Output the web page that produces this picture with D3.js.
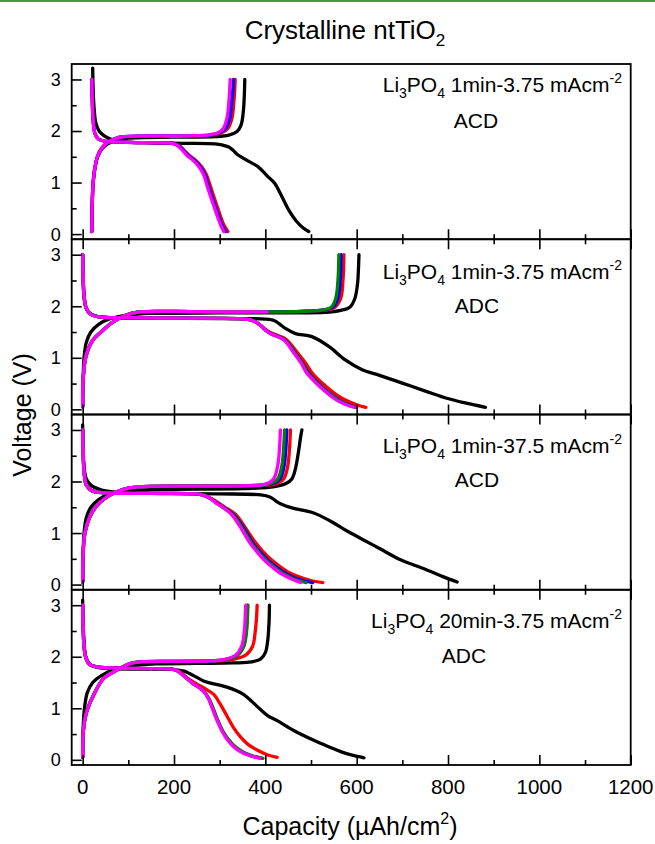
<!DOCTYPE html>
<html>
<head>
<meta charset="utf-8">
<script src="https://cdn.jsdelivr.net/npm/d3@7"></script>
<style>
  html, body { margin: 0; padding: 0; background: #fff; }
  svg { display: block; font-family: "Liberation Sans", Arial, sans-serif; }
</style>
</head>
<body>
<div id="chart"></div>
<script>
// tick values
const capacityTicks = [0, 200, 400, 600, 800, 1000, 1200];
const capacityMinor = [100, 300, 500, 700, 900, 1100];
const voltageTicks = [0, 1, 2, 3];
const voltageMinor = [0.5, 1.5, 2.5];

// panel annotations: [rate text, mode]
const panelRate = ["1min-3.75 mAcm", "1min-3.75 mAcm", "1min-37.5 mAcm", "20min-3.75 mAcm"];
const panelMode = ["ACD", "ADC", "ACD", "ADC"];

const cycleColors = { black: "#000000", red: "#ff0000", blue: "#0000ff", green: "#008000", magenta: "#ff00ff" };

// ---- panel 1 : Li3PO4 1min-3.75 ACD ----
const p1BlackDis = [[22,3.22],[23,2.8],[25,2.45],[29,2.15],[36,2.0],[48,1.9],[65,1.83],[90,1.79],[150,1.77],[220,1.76],[290,1.75],[305,1.73],[320,1.69],[330,1.62],[338,1.55],[360,1.43],[385,1.3],[405,1.12],[420,0.99],[435,0.75],[451,0.47],[468,0.25],[483,0.12],[495,0.05]];
const p1RedDis = [[20,3.0],[21,2.6],[23,2.2],[27,1.95],[35,1.84],[50,1.8],[100,1.78],[180,1.77],[199,1.76],[211,1.72],[222,1.63],[233,1.53],[249,1.42],[261,1.3],[271,1.15],[279,0.95],[286,0.76],[294,0.55],[301,0.37],[309,0.18],[318,0.05]];
const p1BlueDis = [[20,3.0],[21,2.6],[23,2.2],[27,1.95],[35,1.84],[50,1.8],[100,1.78],[180,1.77],[197,1.76],[209,1.72],[220,1.63],[231,1.53],[246,1.42],[258,1.3],[268,1.15],[275,0.95],[282,0.76],[290,0.55],[297,0.37],[305,0.18],[313,0.05]];
const p1MagentaDis = [[20,3.0],[21,2.6],[23,2.2],[27,1.95],[35,1.84],[50,1.8],[100,1.78],[180,1.77],[195,1.76],[207,1.72],[218,1.63],[228,1.53],[243,1.42],[255,1.3],[265,1.15],[272,0.95],[279,0.76],[287,0.55],[294,0.37],[302,0.18],[309,0.05]];
const p1BlackChg = [[20,0.05],[21,0.6],[23,1.0],[27,1.28],[33,1.5],[42,1.65],[55,1.75],[75,1.82],[100,1.86],[200,1.88],[290,1.89],[320,1.92],[338,1.99],[347,2.12],[352,2.4],[354,2.7],[355,3.0]];
const p1RedChg = [[20,0.05],[21,0.6],[23,1.0],[27,1.3],[33,1.52],[42,1.67],[55,1.78],[70,1.85],[90,1.89],[150,1.9],[220,1.9],[275,1.91],[303,1.96],[318,2.05],[327,2.25],[331,2.55],[333,2.8],[334,3.0]];
const p1BlueChg = [[20,0.05],[21,0.6],[23,1.0],[27,1.3],[33,1.52],[42,1.67],[55,1.78],[70,1.85],[90,1.89],[150,1.9],[220,1.9],[270,1.91],[298,1.96],[313,2.05],[322,2.25],[326,2.55],[329,2.8],[330,3.0]];
const p1MagentaChg = [[20,0.05],[21,0.6],[23,1.0],[27,1.3],[33,1.52],[42,1.67],[55,1.78],[70,1.85],[90,1.89],[150,1.9],[220,1.9],[270,1.92],[295,1.96],[308,2.05],[316,2.25],[320,2.55],[322,2.8],[323,3.0]];

// ---- panel 2 : Li3PO4 1min-3.75 ADC ----
const p2BlackDis = [[0,3.0],[1,2.6],[3,2.2],[7,1.98],[15,1.87],[30,1.81],[60,1.78],[150,1.77],[300,1.76],[400,1.75],[420,1.72],[432,1.65],[444,1.57],[466,1.47],[502,1.41],[539,1.22],[575,0.96],[612,0.77],[650,0.66],[703,0.5],[755,0.34],[799,0.21],[840,0.12],[882,0.04]];
const p2RedDis = [[0,3.0],[1,2.6],[3,2.2],[8,1.96],[18,1.84],[40,1.79],[80,1.78],[200,1.77],[340,1.76],[365,1.74],[378,1.7],[390,1.63],[401,1.55],[413,1.48],[445,1.36],[470,1.1],[488,0.9],[503,0.7],[523,0.52],[543,0.37],[563,0.24],[585,0.14],[603,0.08],[620,0.04]];
const p2BlueDis = [[0,3.0],[1,2.6],[3,2.2],[8,1.96],[18,1.84],[40,1.79],[80,1.78],[200,1.77],[340,1.76],[365,1.74],[378,1.7],[389,1.63],[400,1.54],[412,1.47],[442,1.35],[465,1.1],[481,0.9],[495,0.7],[514,0.52],[532,0.37],[551,0.24],[569,0.14],[586,0.08],[600,0.04]];
const p2GreenDis = [[0,3.0],[1,2.6],[3,2.2],[8,1.96],[18,1.84],[40,1.79],[80,1.78],[200,1.77],[340,1.76],[365,1.74],[378,1.7],[389,1.63],[400,1.54],[411,1.47],[441,1.35],[464,1.1],[480,0.9],[493,0.7],[512,0.52],[530,0.37],[549,0.24],[567,0.14],[583,0.08],[597,0.04]];
const p2MagentaDis = [[0,3.0],[1,2.6],[3,2.2],[8,1.96],[18,1.84],[40,1.79],[80,1.78],[200,1.77],[340,1.76],[365,1.74],[378,1.7],[389,1.63],[400,1.54],[411,1.47],[440,1.35],[462,1.1],[478,0.9],[491,0.7],[510,0.52],[528,0.37],[546,0.24],[564,0.14],[580,0.08],[594,0.04]];
const p2BlackChg = [[0,0.05],[1,0.6],[3,1.0],[8,1.3],[18,1.5],[35,1.65],[60,1.76],[100,1.83],[150,1.86],[300,1.87],[450,1.87],[530,1.88],[565,1.92],[585,1.98],[596,2.15],[602,2.45],[604,2.75],[605,3.0]];
const p2RedChg = [[0,0.05],[1,0.57],[7,1.02],[22,1.34],[44,1.53],[66,1.69],[95,1.83],[124,1.89],[200,1.9],[300,1.89],[404,1.89],[480,1.9],[525,1.92],[552,1.98],[565,2.15],[570,2.5],[572,3.0]];
const p2BlueChg = [[0,0.05],[1,0.57],[7,1.02],[22,1.34],[44,1.53],[66,1.69],[95,1.83],[124,1.89],[200,1.9],[300,1.89],[404,1.89],[480,1.9],[520,1.92],[548,1.98],[559,2.15],[564,2.5],[566,3.0]];
const p2GreenChg = [[0,0.05],[1,0.57],[7,1.02],[22,1.34],[44,1.53],[66,1.69],[95,1.83],[124,1.89],[200,1.9],[300,1.89],[404,1.89],[480,1.9],[518,1.92],[544,1.98],[554,2.15],[559,2.5],[561,3.0]];
const p2MagentaChg = [[0,0.05],[1,0.57],[7,1.02],[22,1.34],[44,1.53],[66,1.69],[95,1.83],[124,1.89],[200,1.9],[300,1.89],[404,1.89]];

// ---- panel 3 : Li3PO4 1min-37.5 ACD ----
const p3BlackDis = [[0,3.1],[1,2.7],[3,2.3],[8,2.05],[18,1.93],[40,1.84],[80,1.79],[150,1.77],[300,1.76],[390,1.74],[410,1.7],[422,1.63],[433,1.57],[462,1.48],[506,1.39],[543,1.23],[579,1.04],[608,0.9],[650,0.7],[696,0.48],[725,0.38],[755,0.28],[790,0.15],[820,0.05]];
const p3RedDis = [[0,3.0],[1,2.6],[3,2.2],[8,1.93],[20,1.82],[50,1.78],[120,1.77],[250,1.76],[265,1.73],[281,1.67],[295,1.6],[310,1.51],[335,1.36],[355,1.12],[378,0.82],[396,0.63],[412,0.49],[432,0.35],[455,0.22],[480,0.13],[504,0.07],[526,0.04]];
const p3BlueDis = [[0,3.0],[1,2.6],[3,2.2],[8,1.93],[20,1.82],[50,1.78],[120,1.77],[250,1.76],[265,1.73],[280,1.67],[293,1.59],[305,1.52],[331,1.35],[351,1.12],[373,0.8],[390,0.62],[405,0.48],[424,0.34],[444,0.22],[466,0.12],[486,0.07],[504,0.04]];
const p3GreenDis = [[0,3.0],[1,2.6],[3,2.2],[8,1.93],[20,1.82],[50,1.78],[120,1.77],[250,1.76],[265,1.73],[280,1.67],[292,1.59],[303,1.52],[329,1.35],[348,1.12],[370,0.8],[386,0.62],[401,0.48],[419,0.34],[438,0.22],[460,0.12],[476,0.07],[489,0.04]];
const p3MagentaDis = [[0,3.0],[1,2.6],[3,2.2],[8,1.93],[20,1.82],[50,1.78],[120,1.77],[250,1.76],[265,1.73],[280,1.67],[292,1.58],[305,1.51],[327,1.35],[345,1.12],[367,0.8],[383,0.62],[397,0.48],[415,0.34],[433,0.22],[455,0.12],[477,0.04]];
const p3BlackChg = [[0,0.05],[1,0.6],[3,1.0],[8,1.3],[18,1.5],[35,1.65],[60,1.76],[100,1.82],[200,1.85],[350,1.86],[420,1.9],[445,1.96],[458,2.05],[466,2.25],[473,2.6],[477,2.85],[480,3.0]];
const p3RedChg = [[0,0.05],[1,0.6],[5,1.0],[15,1.3],[30,1.52],[50,1.68],[75,1.8],[100,1.87],[130,1.9],[250,1.91],[380,1.92],[421,1.95],[440,2.05],[449,2.3],[453,2.65],[455,3.0]];
const p3BlueChg = [[0,0.05],[1,0.6],[5,1.0],[15,1.3],[30,1.52],[50,1.68],[75,1.8],[100,1.87],[130,1.9],[250,1.91],[372,1.92],[413,1.95],[432,2.05],[441,2.3],[445,2.65],[447,3.0]];
const p3GreenChg = [[0,0.05],[1,0.6],[5,1.0],[15,1.3],[30,1.52],[50,1.68],[75,1.8],[100,1.87],[130,1.9],[250,1.91],[368,1.92],[408,1.95],[427,2.05],[436,2.3],[440,2.65],[442,3.0]];
const p3MagentaChg = [[0,0.05],[1,0.6],[5,1.0],[15,1.3],[30,1.52],[50,1.68],[75,1.8],[100,1.87],[130,1.9],[250,1.91],[360,1.92],[400,1.95],[418,2.05],[427,2.3],[431,2.65],[433,3.0]];

// ---- panel 4 : Li3PO4 20min-3.75 ADC ----
const p4BlackDis = [[0,3.1],[1,2.7],[3,2.3],[7,2.0],[15,1.86],[30,1.8],[60,1.77],[120,1.76],[200,1.75],[222,1.72],[235,1.67],[250,1.6],[265,1.53],[280,1.49],[316,1.41],[352,1.27],[372,1.12],[389,0.98],[405,0.86],[426,0.76],[462,0.57],[506,0.38],[540,0.25],[565,0.16],[590,0.09],[616,0.04]];
const p4RedDis = [[0,3.0],[1,2.6],[3,2.2],[7,1.98],[15,1.85],[35,1.8],[80,1.78],[150,1.77],[195,1.76],[207,1.74],[221,1.65],[235,1.55],[250,1.47],[268,1.38],[287,1.27],[300,1.1],[316,0.85],[330,0.63],[345,0.45],[362,0.3],[382,0.19],[404,0.1],[426,0.05]];
const p4BlueDis = [[0,3.0],[1,2.6],[3,2.2],[7,1.98],[15,1.85],[35,1.8],[80,1.78],[150,1.77],[195,1.76],[207,1.73],[221,1.63],[232,1.55],[243,1.47],[255,1.4],[265,1.33],[275,1.2],[284,1.02],[295,0.77],[306,0.56],[318,0.4],[332,0.26],[348,0.16],[369,0.08],[392,0.03]];
const p4GreenDis = [[0,3.0],[1,2.6],[3,2.2],[7,1.98],[15,1.85],[35,1.8],[80,1.78],[150,1.77],[195,1.76],[207,1.73],[221,1.63],[232,1.55],[244,1.47],[256,1.4],[266,1.33],[276,1.2],[285,1.02],[296,0.77],[307,0.56],[319,0.4],[334,0.26],[350,0.16],[371,0.08],[395,0.03]];
const p4MagentaDis = [[0,3.0],[1,2.6],[3,2.2],[7,1.98],[15,1.85],[35,1.8],[80,1.78],[150,1.77],[195,1.76],[207,1.73],[221,1.63],[232,1.55],[243,1.47],[255,1.4],[265,1.33],[275,1.2],[283,1.02],[294,0.77],[305,0.56],[316,0.4],[330,0.26],[345,0.16],[366,0.08],[389,0.03]];
const p4BlackChg = [[0,0.05],[1,0.6],[4,1.0],[10,1.3],[22,1.5],[40,1.63],[70,1.75],[110,1.83],[160,1.86],[250,1.87],[330,1.88],[370,1.9],[390,1.96],[400,2.08],[405,2.3],[408,2.65],[409,3.0]];
const p4RedChg = [[0,0.05],[2,0.6],[9,0.94],[24,1.26],[46,1.58],[75,1.74],[104,1.87],[126,1.9],[200,1.91],[290,1.92],[325,1.94],[357,2.03],[372,2.2],[378,2.5],[381,2.8],[382,3.0]];
const p4BlueChg = [[0,0.05],[2,0.6],[9,0.94],[24,1.26],[46,1.58],[75,1.74],[104,1.87],[126,1.9],[200,1.91],[282,1.92],[309,1.94],[338,2.03],[352,2.2],[358,2.5],[360,2.8],[361,3.0]];
const p4GreenChg = [[0,0.05],[2,0.6],[9,0.94],[24,1.26],[46,1.58],[75,1.74],[104,1.87],[126,1.9],[200,1.91],[283,1.92],[310,1.94],[339,2.03],[353,2.2],[359,2.5],[361,2.8],[362,3.0]];
const p4MagentaChg = [[0,0.05],[2,0.6],[9,0.94],[24,1.26],[46,1.58],[75,1.74],[104,1.87],[126,1.9],[200,1.91],[280,1.92],[306,1.94],[335,2.03],[348,2.2],[354,2.5],[356,2.8],[357,3.0]];

const panelSeries = [
  [["black", p1BlackDis], ["black", p1BlackChg], ["red", p1RedDis], ["red", p1RedChg],
   ["blue", p1BlueDis], ["blue", p1BlueChg], ["magenta", p1MagentaDis], ["magenta", p1MagentaChg]],
  [["black", p2BlackDis], ["black", p2BlackChg], ["red", p2RedDis], ["red", p2RedChg],
   ["blue", p2BlueDis], ["blue", p2BlueChg], ["green", p2GreenDis], ["green", p2GreenChg],
   ["magenta", p2MagentaDis], ["magenta", p2MagentaChg]],
  [["black", p3BlackDis], ["black", p3BlackChg], ["red", p3RedDis], ["red", p3RedChg],
   ["blue", p3BlueDis], ["blue", p3BlueChg], ["green", p3GreenDis], ["green", p3GreenChg],
   ["magenta", p3MagentaDis], ["magenta", p3MagentaChg]],
  [["black", p4BlackDis], ["black", p4BlackChg], ["red", p4RedDis], ["red", p4RedChg],
   ["blue", p4BlueDis], ["blue", p4BlueChg], ["green", p4GreenDis], ["green", p4GreenChg],
   ["magenta", p4MagentaDis], ["magenta", p4MagentaChg]]
];

// layout
const width = 655, height = 844;
const plotLeft = 71.7, plotRight = 630.7, plotTop = 64, plotBottom = 765;
const panelH = (plotBottom - plotTop) / 4;
// where the text sits in each panel
const rateBaseline = [92, 279, 453, 628];
const modeBaseline = [127.5, 313, 487, 663];
const modeCenter = [476, 477, 477, 464];

const svg = d3.select("#chart").append("svg")
  .attr("width", width)
  .attr("height", height);

// the green rule along the top of the page
svg.append("line")
  .attr("x1", 0).attr("x2", width)
  .attr("y1", 1).attr("y2", 1)
  .attr("stroke", "#3a9d47")
  .attr("stroke-width", 2);

const x = d3.scaleLinear().domain([-24, 1200]).range([plotLeft, plotRight]);

svg.append("defs").append("clipPath").attr("id", "clipAll")
  .append("rect").attr("x", plotLeft).attr("y", plotTop)
  .attr("width", plotRight - plotLeft).attr("height", plotBottom - plotTop);

panelSeries.forEach((series, i) => {
  const y0 = plotTop + i * panelH;
  const y = d3.scaleLinear().domain([-0.1, 3.3]).range([y0 + panelH, y0]);
  const g = svg.append("g");

  const line = d3.line()
    .x(d => x(d[0]))
    .y(d => y(d[1]))
    .curve(d3.curveCatmullRom.alpha(0.5));

  g.append("g").attr("clip-path", "url(#clipAll)")
    .selectAll("path")
    .data(series)
    .join("path")
    .attr("d", d => line(d[1]))
    .attr("fill", "none")
    .attr("stroke", d => cycleColors[d[0]])
    .attr("stroke-width", 3.3)
    .attr("stroke-linecap", "round")
    .attr("stroke-linejoin", "round");

  // y ticks (inward)
  g.append("g")
    .attr("transform", `translate(${plotLeft},0)`)
    .call(d3.axisRight(y).tickValues(voltageTicks).tickSize(10).tickFormat(""));
  g.append("g")
    .attr("transform", `translate(${plotLeft},0)`)
    .call(d3.axisRight(y).tickValues(voltageMinor).tickSize(5).tickFormat(""));

  g.selectAll(".ylab")
    .data(voltageTicks)
    .join("text")
    .attr("x", plotLeft - 11)
    .attr("y", d => y(d))
    .attr("dy", "0.36em")
    .attr("text-anchor", "end")
    .attr("font-size", 18)
    .text(d => d);

  // x ticks on bottom edge (inward, pointing up)
  g.append("g")
    .attr("transform", `translate(0,${y0 + panelH})`)
    .call(d3.axisTop(x).tickValues(capacityTicks).tickSize(10).tickFormat(""));
  g.append("g")
    .attr("transform", `translate(0,${y0 + panelH})`)
    .call(d3.axisTop(x).tickValues(capacityMinor).tickSize(5).tickFormat(""));
  if (i > 0) {
    g.append("g")
      .attr("transform", `translate(0,${y0})`)
      .call(d3.axisBottom(x).tickValues(capacityTicks).tickSize(10).tickFormat(""));
    g.append("g")
      .attr("transform", `translate(0,${y0})`)
      .call(d3.axisBottom(x).tickValues(capacityMinor).tickSize(5).tickFormat(""));
  }

  g.append("rect")
    .attr("x", plotLeft).attr("y", y0)
    .attr("width", plotRight - plotLeft).attr("height", panelH)
    .attr("fill", "none")
    .attr("stroke", "#000")
    .attr("stroke-width", 1.8);

  // annotation
  const t = g.append("text")
    .attr("x", 622)
    .attr("y", rateBaseline[i])
    .attr("text-anchor", "end")
    .attr("font-size", 21);
  t.append("tspan").text("Li");
  t.append("tspan").attr("font-size", 14).attr("dy", 6).text("3");
  t.append("tspan").attr("dy", -6).text("PO");
  t.append("tspan").attr("font-size", 14).attr("dy", 6).text("4");
  t.append("tspan").attr("dy", -6).text(" " + panelRate[i]);
  t.append("tspan").attr("font-size", 14).attr("dy", -9).text("-2");

  g.append("text")
    .attr("x", modeCenter[i])
    .attr("y", modeBaseline[i])
    .attr("text-anchor", "middle")
    .attr("font-size", 21)
    .text(panelMode[i]);
});

svg.selectAll(".domain").remove();
svg.selectAll(".tick line").attr("stroke", "#000").attr("stroke-width", 1.6);

// x tick labels under the last panel
svg.append("g")
  .selectAll("text")
  .data(capacityTicks)
  .join("text")
  .attr("x", d => x(d))
  .attr("y", 794)
  .attr("text-anchor", "middle")
  .attr("font-size", 20.5)
  .text(d => d);

// title
const title = svg.append("text")
  .attr("x", 345)
  .attr("y", 39)
  .attr("text-anchor", "middle")
  .attr("font-size", 26);
title.append("tspan").text("Crystalline ntTiO");
title.append("tspan").attr("font-size", 17).attr("dy", 7).text("2");

// axis titles
const xTitle = svg.append("text")
  .attr("x", 350)
  .attr("y", 835)
  .attr("text-anchor", "middle")
  .attr("font-size", 25);
xTitle.append("tspan").text("Capacity (\u00b5Ah/cm");
xTitle.append("tspan").attr("font-size", 16).attr("dy", -11).text("2");
xTitle.append("tspan").attr("dy", 11).text(")");

svg.append("text")
  .attr("transform", "translate(31,415) rotate(-90)")
  .attr("text-anchor", "middle")
  .attr("font-size", 25)
  .text("Voltage (V)");
</script>
</body>
</html>
